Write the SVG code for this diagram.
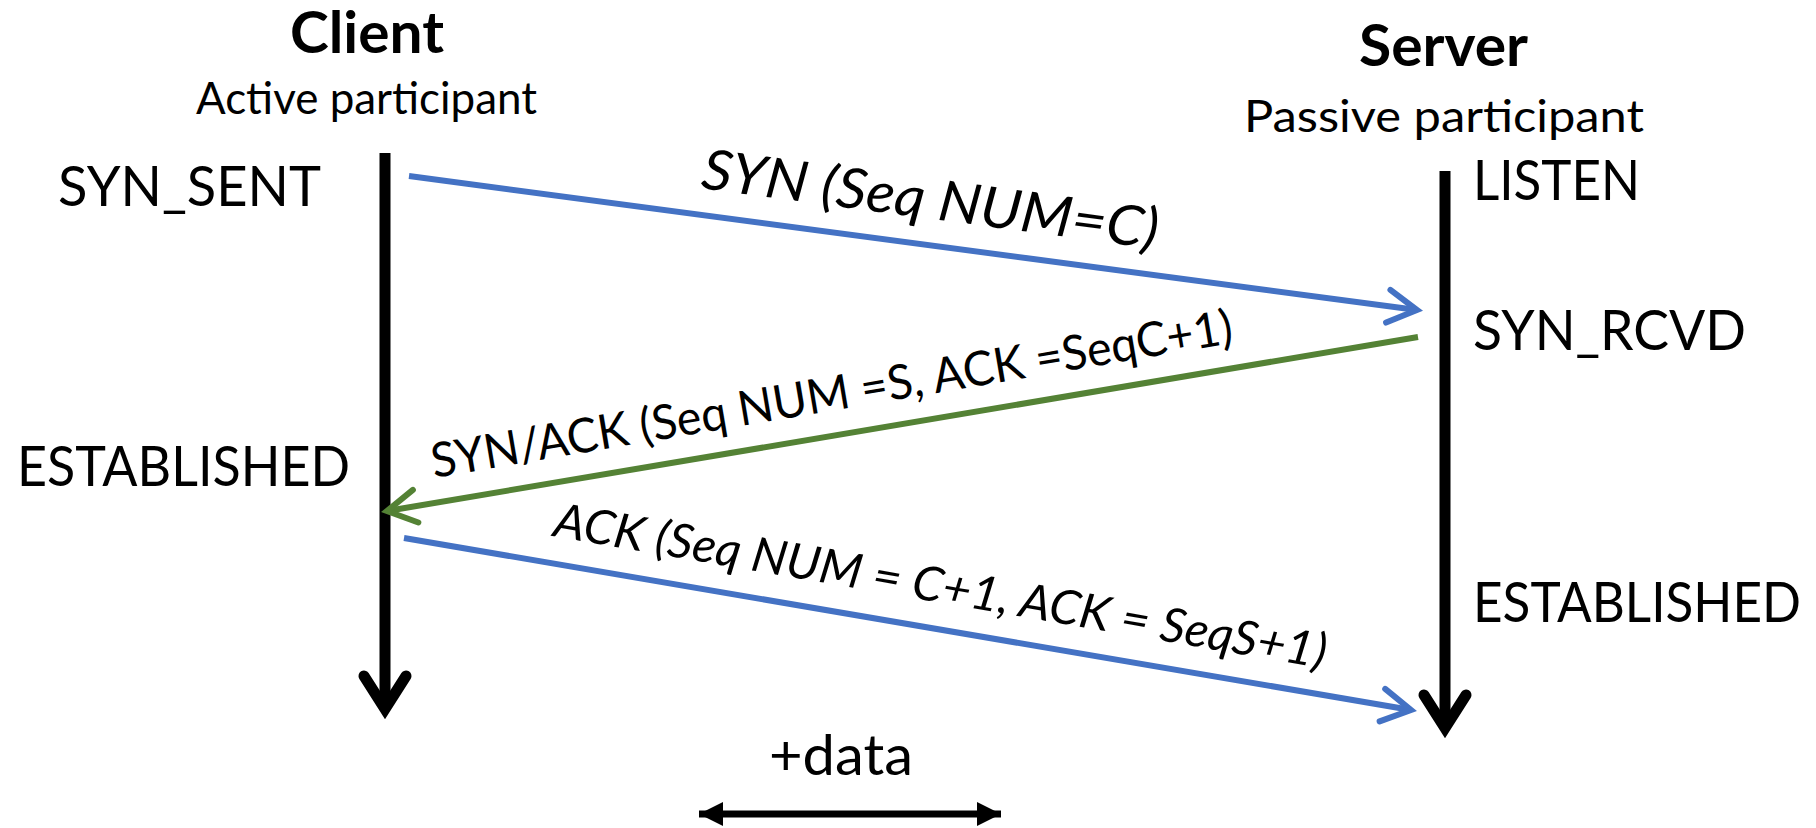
<svg xmlns="http://www.w3.org/2000/svg" width="1816" height="828" viewBox="0 0 1816 828">
  <style>
    text { font-family: Lato, "Open Sans", "Liberation Sans", sans-serif; fill: #000; }
    .title { font-size: 57px; font-weight: bold; }
    .sub { font-size: 44px; }
    .state { font-size: 56px; }
    .msg1 { font-size: 56px; font-style: italic; }
    .msg { font-size: 48px; }
    .msgi { font-size: 48px; font-style: italic; }
    .life { stroke: #000; stroke-width: 11; fill: none; stroke-linecap: butt; }
    .chev { stroke: #000; stroke-width: 11; fill: none; stroke-linecap: round; stroke-linejoin: miter; stroke-miterlimit: 10; }
    .blue { stroke: #4472C4; stroke-width: 6; fill: none; }
    .green { stroke: #548235; stroke-width: 6; fill: none; }
    .data { stroke: #000; stroke-width: 7; fill: none; }
  </style>
  <defs>
    <marker id="arrBlue" markerUnits="userSpaceOnUse" orient="auto" refX="0" refY="0" markerWidth="80" markerHeight="80" viewBox="-40 -40 80 80" overflow="visible">
      <path d="M-29,-16.5 L0,0 L-29,16.5" fill="none" stroke="#4472C4" stroke-width="6" stroke-linecap="round" stroke-linejoin="miter"/>
    </marker>
    <marker id="arrGreen" markerUnits="userSpaceOnUse" orient="auto" refX="0" refY="0" markerWidth="80" markerHeight="80" viewBox="-40 -40 80 80" overflow="visible">
      <path d="M-29,-16.5 L0,0 L-29,16.5" fill="none" stroke="#548235" stroke-width="6" stroke-linecap="round" stroke-linejoin="miter"/>
    </marker>
    <marker id="triEnd" markerUnits="userSpaceOnUse" orient="auto-start-reverse" refX="0" refY="0" markerWidth="60" markerHeight="60" viewBox="-30 -30 60 60" overflow="visible">
      <path d="M-24,-12 L0,0 L-24,12 Z" fill="#000"/>
    </marker>
  </defs>

  <g id="client">
    <text class="title" x="290" y="53" textLength="154" lengthAdjust="spacingAndGlyphs">Client</text>
    <text class="sub" x="196" y="114" textLength="341" lengthAdjust="spacingAndGlyphs">Active participant</text>
    <line class="life" x1="385" y1="153" x2="385" y2="706"/>
    <path class="chev" d="M364,676 L385,709 L406,676"/>
  </g>

  <g id="server">
    <text class="title" x="1359" y="66" textLength="169" lengthAdjust="spacingAndGlyphs">Server</text>
    <text class="sub" x="1244" y="132" textLength="400" lengthAdjust="spacingAndGlyphs">Passive participant</text>
    <line class="life" x1="1445" y1="171" x2="1445" y2="725"/>
    <path class="chev" d="M1424,695 L1445,728 L1466,695"/>
  </g>

  <g id="state-syn-sent">
    <text class="state" x="58" y="206" textLength="263" lengthAdjust="spacingAndGlyphs">SYN_SENT</text>
  </g>
  <g id="state-client-established">
    <text class="state" x="17" y="486" textLength="333" lengthAdjust="spacingAndGlyphs">ESTABLISHED</text>
  </g>
  <g id="state-listen">
    <text class="state" x="1473" y="200" textLength="167" lengthAdjust="spacingAndGlyphs">LISTEN</text>
  </g>
  <g id="state-syn-rcvd">
    <text class="state" x="1473" y="350" textLength="273" lengthAdjust="spacingAndGlyphs">SYN_RCVD</text>
  </g>
  <g id="state-server-established">
    <text class="state" x="1473" y="622" textLength="328" lengthAdjust="spacingAndGlyphs">ESTABLISHED</text>
  </g>
  <g id="data-label">
    <text class="state" x="769" y="775" textLength="144" lengthAdjust="spacingAndGlyphs">+data</text>
  </g>

  <g id="connectors">
    <line class="blue" x1="409" y1="176" x2="1417" y2="310" marker-end="url(#arrBlue)"/>
    <text class="msg1" transform="translate(700,188) rotate(7.6)" textLength="460" lengthAdjust="spacingAndGlyphs">SYN (Seq NUM=C)</text>

    <line class="green" x1="1418" y1="337" x2="387" y2="511" marker-end="url(#arrGreen)"/>
    <text class="msg" transform="translate(434,478) rotate(-9.6)" textLength="812" lengthAdjust="spacingAndGlyphs">SYN/ACK (Seq NUM =S, ACK =SeqC+1)</text>

    <line class="blue" x1="404" y1="538" x2="1411" y2="710" marker-end="url(#arrBlue)"/>
    <text class="msgi" transform="translate(552,536) rotate(9.74)" textLength="783" lengthAdjust="spacingAndGlyphs">ACK (Seq NUM = C+1, ACK = SeqS+1)</text>

    <line class="data" x1="699" y1="814" x2="1001" y2="814" marker-start="url(#triEnd)" marker-end="url(#triEnd)"/>
  </g>
</svg>
